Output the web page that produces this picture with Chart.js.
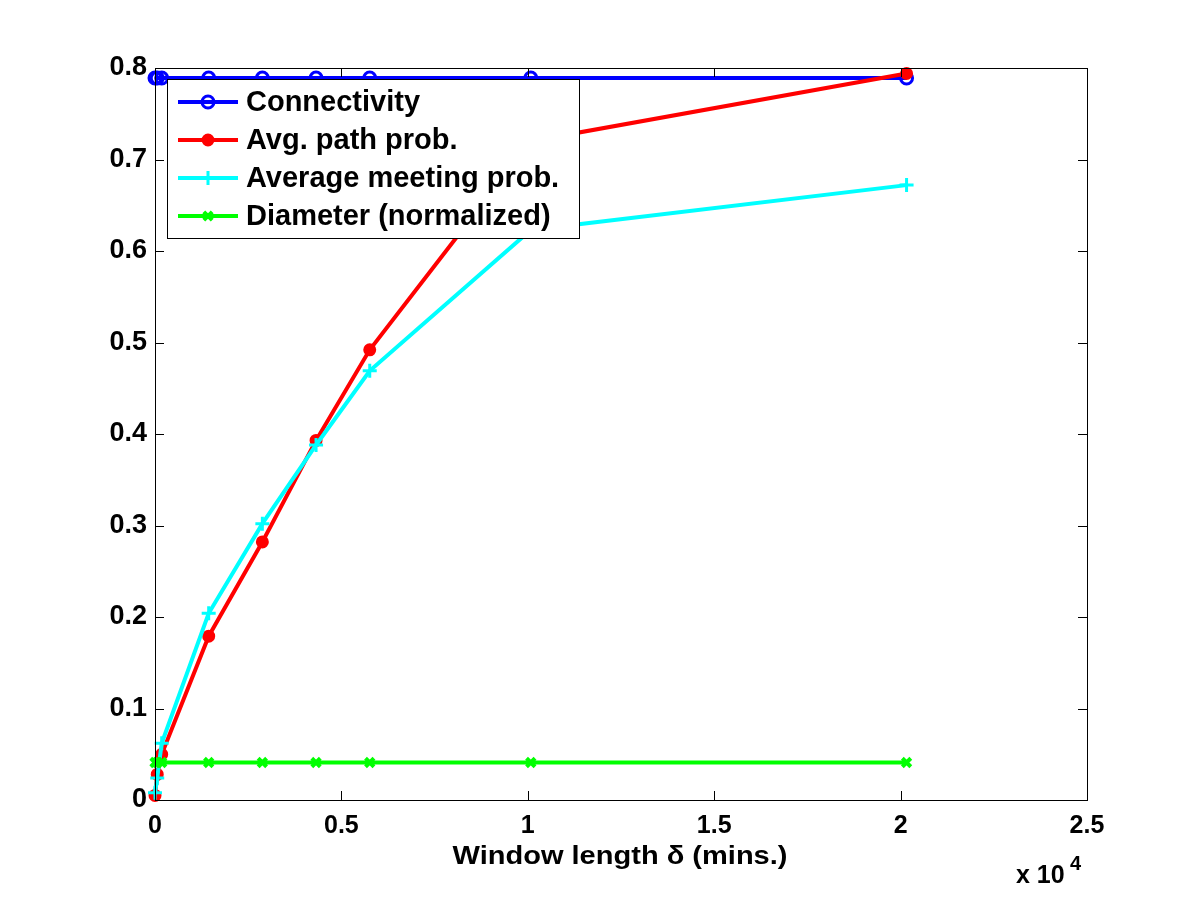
<!DOCTYPE html>
<html>
<head>
<meta charset="utf-8">
<script src="https://cdn.jsdelivr.net/npm/chart.js@4/dist/chart.umd.min.js"></script>
<style>
  html, body { margin: 0; padding: 0; background: #ffffff; }
  #wrap { width: 1200px; height: 900px; position: relative; }
</style>
</head>
<body>
<div id="wrap"><canvas id="chart" width="1200" height="900"></canvas></div>
<script>
// window lengths in minutes
const windowLengths = [0, 60, 180, 1440, 2880, 4320, 5760, 10080, 20160]

// series values
const connectivity = [0.789, 0.789, 0.789, 0.789, 0.789, 0.789, 0.789, 0.789, 0.789]
const avgPathProb = [0.005, 0.028, 0.05, 0.179, 0.282, 0.393, 0.492, 0.72, 0.794]
const avgMeetingProb = [0.008, 0.024, 0.062, 0.204, 0.302, 0.388, 0.469, 0.623, 0.672]
const diameterNorm = [0.041, 0.041, 0.041, 0.041, 0.041, 0.041, 0.041, 0.041, 0.041]

const seriesLabels = ["Connectivity", "Avg. path prob.", "Average meeting prob.", "Diameter (normalized)"]

// axis ticks
const xTicks = [0, 5000, 10000, 15000, 20000, 25000]
const yTicks = [0, 0.1, 0.2, 0.3, 0.4, 0.5, 0.6, 0.7, 0.8]

const toPoints = (ys) => ys.map((y, i) => ({ x: windowLengths[i], y: y }))

const FONT = "'Liberation Sans', Arial, sans-serif"

// matlab-like styling per series
const styles = [
  { color: "#0000ff", pointStyle: "circle", radius: 6, filled: false, order: 4 },
  { color: "#ff0000", pointStyle: "circle", radius: 5, filled: true, order: 3 },
  { color: "#00ffff", pointStyle: "cross", radius: 7, filled: false, order: 2 },
  { color: "#00ff00", pointStyle: "crossRot", radius: 6, filled: false, order: 1 },
]
const allValues = [connectivity, avgPathProb, avgMeetingProb, diameterNorm]

const datasets = allValues.map((vals, i) => ({
  label: seriesLabels[i],
  data: toPoints(vals),
  borderColor: styles[i].color,
  backgroundColor: styles[i].filled ? styles[i].color : "rgba(0,0,0,0)",
  pointBorderColor: styles[i].color,
  pointBackgroundColor: styles[i].filled ? styles[i].color : "rgba(0,0,0,0)",
  borderWidth: 4,
  pointBorderWidth: i === 3 ? 4 : 3,
  pointRadius: styles[i].radius,
  pointStyle: styles[i].pointStyle,
  tension: 0,
  clip: false,
  order: styles[i].order,
}))

// text squeezed/stretched to a given width (matlab's screen font is wider)
function fitText(ctx, text, cx, y, width) {
  const w = ctx.measureText(text).width
  ctx.save()
  ctx.translate(cx, y)
  ctx.scale(width / w, 1)
  ctx.textAlign = "center"
  ctx.fillText(text, 0, 0)
  ctx.restore()
}

// frame, inward ticks, legend box, axis title and exponent label
const matlabDecor = {
  id: "matlabDecor",
  afterDatasetsDraw(chart) {
    const ctx = chart.ctx
    const area = chart.chartArea
    const xs = chart.scales.x
    const ys = chart.scales.y
    ctx.save()

    // box around the axes
    ctx.strokeStyle = "#000"
    ctx.lineWidth = 1
    ctx.strokeRect(area.left + 0.5, area.top + 0.5, area.right - area.left, area.bottom - area.top)

    // inward ticks on all four sides
    const tl = 9
    ctx.beginPath()
    xTicks.forEach((t) => {
      const px = Math.round(xs.getPixelForValue(t)) + 0.5
      ctx.moveTo(px, area.bottom); ctx.lineTo(px, area.bottom - tl)
      ctx.moveTo(px, area.top); ctx.lineTo(px, area.top + tl)
    })
    yTicks.forEach((t) => {
      const py = Math.round(ys.getPixelForValue(t)) + 0.5
      ctx.moveTo(area.left, py); ctx.lineTo(area.left + tl, py)
      ctx.moveTo(area.right, py); ctx.lineTo(area.right - tl, py)
    })
    ctx.stroke()

    // legend
    const lx = 167, ly = 79, lw = 412, lh = 159
    ctx.fillStyle = "#fff"
    ctx.fillRect(lx, ly, lw, lh)
    ctx.strokeRect(lx + 0.5, ly + 0.5, lw, lh)
    ctx.font = "bold 29px " + FONT
    ctx.textBaseline = "middle"
    ctx.textAlign = "left"
    seriesLabels.forEach((label, i) => {
      const cy = ly + 23 + i * 38
      const st = styles[i]
      ctx.strokeStyle = st.color
      ctx.lineWidth = 4
      ctx.beginPath()
      ctx.moveTo(178, cy); ctx.lineTo(238, cy)
      ctx.stroke()
      drawMarker(ctx, st, 208, cy)
      ctx.fillStyle = "#000"
      ctx.fillText(label, 246, cy + 1)
    })

    // x axis title
    ctx.fillStyle = "#000"
    ctx.textBaseline = "alphabetic"
    ctx.font = "bold 25px " + FONT
    fitText(ctx, "Window length \u03b4 (mins.)", 620, 864, 335)

    // x 10^4 exponent
    ctx.textAlign = "left"
    ctx.font = "bold 25px " + FONT
    ctx.fillText("x 10", 1016, 883)
    ctx.font = "bold 20px " + FONT
    ctx.fillText("4", 1070, 870)
    ctx.restore()
  },
}

function drawMarker(ctx, st, x, y) {
  const r = st.radius
  ctx.save()
  ctx.strokeStyle = st.color
  ctx.fillStyle = st.color
  ctx.lineWidth = 3
  ctx.beginPath()
  if (st.pointStyle === "circle") {
    ctx.arc(x, y, r, 0, Math.PI * 2)
    if (st.filled) ctx.fill()
    ctx.stroke()
  } else if (st.pointStyle === "cross") {
    ctx.moveTo(x - r, y); ctx.lineTo(x + r, y)
    ctx.moveTo(x, y - r); ctx.lineTo(x, y + r)
    ctx.stroke()
  } else {
    ctx.lineWidth = 4
    const d = r * 0.7
    ctx.moveTo(x - d, y - d); ctx.lineTo(x + d, y + d)
    ctx.moveTo(x - d, y + d); ctx.lineTo(x + d, y - d)
    ctx.stroke()
  }
  ctx.restore()
}

new Chart(document.getElementById("chart"), {
  type: "line",
  data: { datasets: datasets },
  options: {
    responsive: false,
    animation: false,
    devicePixelRatio: 1,
    layout: { padding: { top: 68, right: 113, left: 0, bottom: 0 } },
    plugins: {
      legend: { display: false },
      tooltip: { enabled: false },
    },
    scales: {
      x: {
        type: "linear",
        min: 0,
        max: 25000,
        grid: { display: false, drawTicks: false },
        border: { display: false },
        afterBuildTicks: (scale) => { scale.ticks = xTicks.map((v) => ({ value: v })) },
        afterFit: (scale) => { scale.height = 100 },
        ticks: {
          color: "#000",
          padding: 11,
          maxRotation: 0,
          font: { family: FONT, size: 25, weight: "bold" },
          callback: (v) => String(v / 10000),
        },
      },
      y: {
        type: "linear",
        min: 0,
        max: 0.8,
        grid: { display: false, drawTicks: false },
        border: { display: false },
        afterBuildTicks: (scale) => { scale.ticks = yTicks.map((v) => ({ value: v })) },
        afterFit: (scale) => { scale.width = 155 },
        ticks: {
          color: "#000",
          padding: 8,
          font: { family: FONT, size: 27, weight: "bold" },
          callback: (v) => (v === 0 ? "0" : v.toFixed(1)),
        },
      },
    },
  },
  plugins: [matlabDecor],
})
</script>
</body>
</html>
